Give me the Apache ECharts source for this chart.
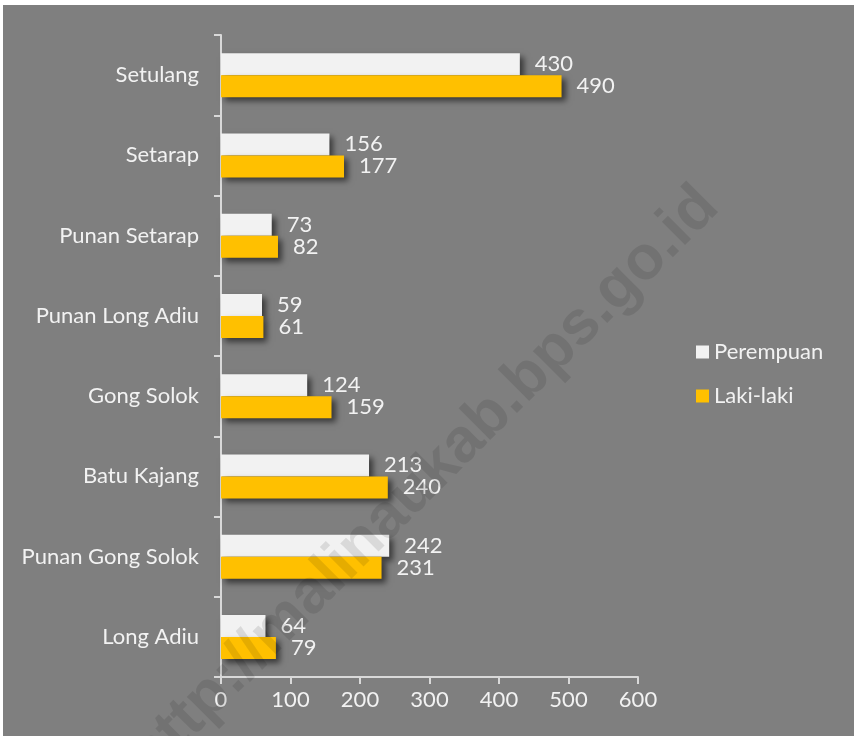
<!DOCTYPE html>
<html lang="id">
<head>
    <meta charset="UTF-8">
    <title>Penduduk menurut desa</title>
    <script src="https://cdn.jsdelivr.net/npm/echarts@6/dist/echarts.min.js"></script>
    <style>
        html, body { margin: 0; padding: 0; background: #ffffff; }
        #chart {
            position: absolute;
            left: 3px;
            top: 5px;
            width: 851px;
            height: 731px;
            background: #7f7f7f;
        }
    </style>
</head>
<body>
<div id="chart"></div>
<script>
    // data, bottom to top as drawn on the category axis
    var desa = ['Long Adiu', 'Punan Gong Solok', 'Batu Kajang', 'Gong Solok',
        'Punan Long Adiu', 'Punan Setarap', 'Setarap', 'Setulang'];
    var perempuan = [64, 242, 213, 124, 59, 73, 156, 430];
    var lakiLaki = [79, 231, 240, 159, 61, 82, 177, 490];
    var xTicks = [0, 100, 200, 300, 400, 500, 600];

    var fontFam = 'Lato, "Open Sans", sans-serif';
    var fs = 22;
    var myChart = echarts.init(document.getElementById('chart'));

    var barShadow = {
        shadowColor: 'rgba(0,0,0,0.55)',
        shadowBlur: 6,
        shadowOffsetX: 4,
        shadowOffsetY: 4
    };

    var option = {
        backgroundColor: '#7f7f7f',
        animation: false,
        grid: {
            left: 218,
            top: 30,
            width: 417,
            height: 642
        },
        legend: {
            orient: 'vertical',
            left: 688,
            top: 331,
            itemWidth: 13,
            itemHeight: 13,
            itemGap: 22,
            icon: 'rect',
            data: ['Perempuan', 'Laki-laki'],
            textStyle: { color: '#f2f2f2', fontSize: fs, fontFamily: fontFam }
        },
        xAxis: {
            type: 'value',
            min: xTicks[0],
            max: xTicks[xTicks.length - 1],
            interval: 100,
            axisLine: { show: true, lineStyle: { color: '#d9d9d9', width: 2 } },
            axisTick: { show: true, length: 7, lineStyle: { color: '#d9d9d9', width: 2 } },
            splitLine: { show: false },
            axisLabel: { color: '#f2f2f2', fontSize: fs, fontFamily: fontFam, margin: 12 }
        },
        yAxis: {
            type: 'category',
            data: desa,
            axisLine: { show: true, lineStyle: { color: '#d9d9d9', width: 2 } },
            axisTick: { show: true, length: 7, lineStyle: { color: '#d9d9d9', width: 2 } },
            axisLabel: { color: '#f2f2f2', fontSize: fs, fontFamily: fontFam, margin: 22 }
        },
        series: [
            {
                // first series sits on top in each group
                name: 'Perempuan',
                type: 'bar',
                data: perempuan,
                barWidth: 22,
                barGap: '0%',
                itemStyle: Object.assign({ color: '#f2f2f2' }, barShadow),
                label: {
                    show: true, position: 'right', distance: 15,
                    color: '#f2f2f2', fontSize: fs, fontFamily: fontFam
                }
            },
            {
                name: 'Laki-laki',
                type: 'bar',
                data: lakiLaki,
                barWidth: 22,
                barGap: '0%',
                itemStyle: Object.assign({ color: '#ffc000' }, barShadow),
                label: {
                    show: true, position: 'right', distance: 15,
                    color: '#f2f2f2', fontSize: fs, fontFamily: fontFam
                }
            }
        ],
        graphic: [
            {
                type: 'text',
                x: 421,
                y: 477,
                rotation: 45 * Math.PI / 180,
                z: 100,
                silent: true,
                style: {
                    text: 'http://malinaukab.bps.go.id',
                    fill: 'rgba(0,0,0,0.1)',
                    font: 'bold 62px "Liberation Sans", Arial, sans-serif',
                    align: 'center',
                    verticalAlign: 'middle'
                }
            }
        ]
    };

    myChart.setOption(option);
</script>
</body>
</html>
